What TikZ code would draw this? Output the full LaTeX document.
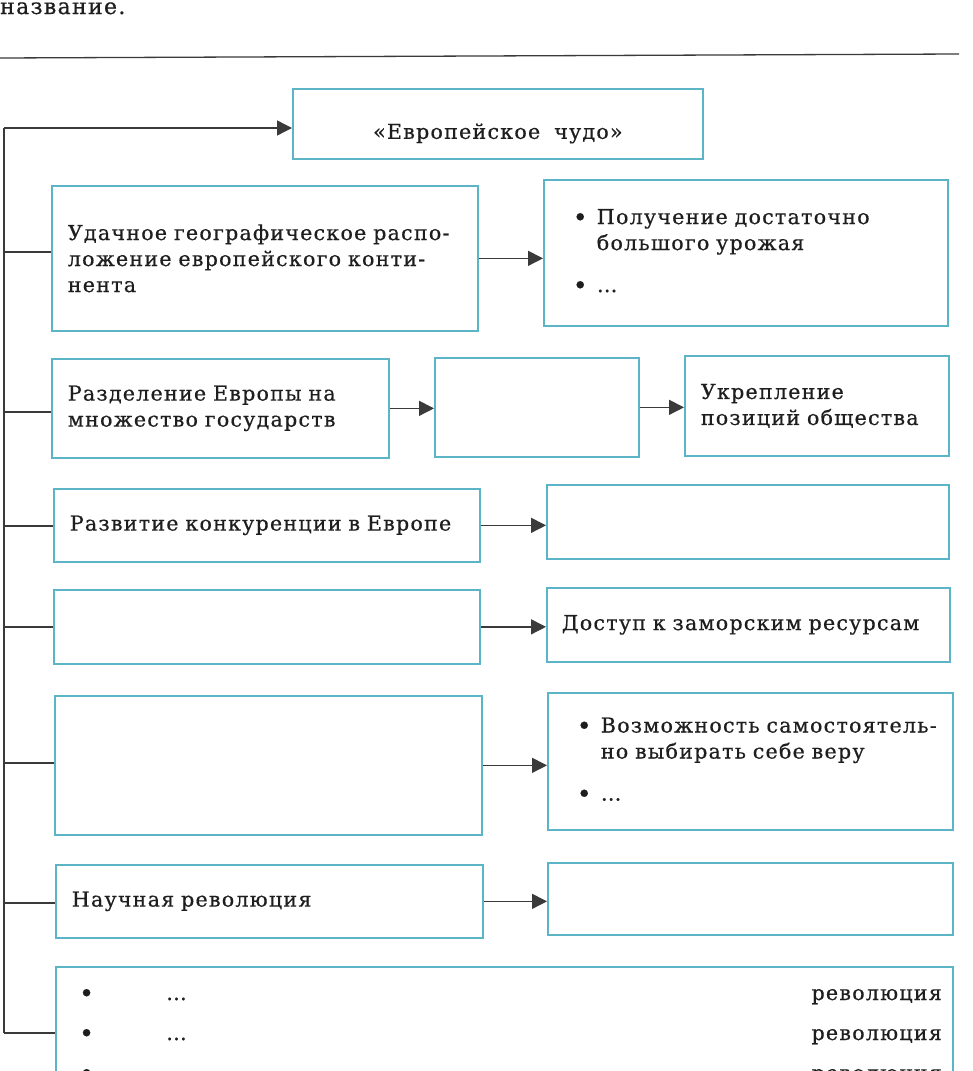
\documentclass[tikz,border=0pt]{standalone}
\usepackage{fontspec}
\setmainfont{DejaVu Serif}[LetterSpace=6, WordSpace=1.8, FakeBold=0.6]
\usetikzlibrary{arrows.meta}
\definecolor{boxc}{HTML}{5BB5C6}
\definecolor{linec}{HTML}{3A3A3A}
\definecolor{txtc}{HTML}{1E1E1E}
\newcommand{\bodyfnt}{\fontsize{20.6}{26}\selectfont}
\newcommand{\bul}{\raisebox{-2pt}{\fontsize{25}{26}\selectfont\textbullet}}
\begin{document}
\begin{tikzpicture}[x=1pt,y=-1pt,
  box/.style={draw=boxc, line width=1.7pt, rectangle, inner sep=0pt,
    anchor=north west, text=txtc, font=\bodyfnt, align=left},
  plain/.style={inner sep=0pt, text=txtc, font=\bodyfnt},
  conn/.style={draw=linec, line width=1.4pt},
  arr/.style={conn, -{Triangle[length=15pt,width=15pt]}},
]
\useasboundingbox (0,0) rectangle (972,1071);
\clip (0,0) rectangle (972,1071);
\fill[white] (0,0) rectangle (972,1071);

% heading fragment and rule
\node[plain, anchor=base west, font=\fontsize{22}{26}\selectfont] (head) at (0,14) {название.};
\coordinate (ruleL) at (0,58);
\coordinate (ruleR) at (959,54);
\draw[conn, line width=1.3pt] (ruleL) -- (ruleR);

% boxes
\node[box, minimum width=410, minimum height=70, align=center] (top) at (292,88)
  {\raisebox{-15pt}[0pt][0pt]{«Европейское чудо»}};

\node[box, minimum width=426, minimum height=145, text width=394] (b2l) at (51,185)
  {Удачное географическое распо-\\ложение европейского конти-\\нента};
\node[box, minimum width=404, minimum height=146, text width=346] (b2r) at (543,179)
  {\begin{tabular}{@{}p{24pt}@{}l@{}}
   \bul & Получение достаточно\\
        & большого урожая\\[16pt]
   \bul & \dots
   \end{tabular}};

\node[box, minimum width=337, minimum height=99, text width=305] (b3a) at (51,358)
  {Разделение Европы на\\множество государств};
\node[box, minimum width=204, minimum height=99] (b3b) at (434,357) {};
\node[box, minimum width=264, minimum height=100, text width=232] (b3c) at (684,355)
  {Укрепление\\позиций общества};

\node[box, minimum width=426, minimum height=73, text width=394] (b4l) at (53,488)
  {Развитие конкуренции в Европе};
\node[box, minimum width=402, minimum height=74] (b4r) at (546,484) {};

\node[box, minimum width=426, minimum height=74] (b5l) at (53,589) {};
\node[box, minimum width=403, minimum height=74, text width=373] (b5r) at (546,587)
  {Доступ к заморским ресурсам};

\node[box, minimum width=427, minimum height=139] (b6l) at (54,695) {};
\node[box, minimum width=405, minimum height=137, text width=347] (b6r) at (547,692)
  {\begin{tabular}{@{}p{24pt}@{}l@{}}
   \bul & Возможность самостоятель-\\
        & но выбирать себе веру\\[16pt]
   \bul & \dots
   \end{tabular}};

\node[box, minimum width=427, minimum height=73, text width=395] (b7l) at (55,864)
  {Научная революция};
\node[box, minimum width=405, minimum height=72] (b7r) at (547,862) {};

\node[box, minimum width=897, minimum height=160] (b8) at (55,966) {};
\node[plain, anchor=base west] (b8p1) at (79,1000) {\bul};
\node[plain, anchor=base west] (b8d1) at (166,1000) {\dots};
\node[plain, anchor=base east] (b8r1) at (942,1000) {революция};
\node[plain, anchor=base west] (b8p2) at (79,1040) {\bul};
\node[plain, anchor=base west] (b8d2) at (166,1040) {\dots};
\node[plain, anchor=base east] (b8r2) at (942,1040) {революция};
\node[plain, anchor=base west] (b8p3) at (79,1080) {\bul};
\node[plain, anchor=base east] (b8r3) at (942,1080) {революция};

% trunk
\coordinate (t1) at (4,128);
\coordinate (t2) at (4,252);
\coordinate (t3) at (4,412);
\coordinate (t4) at (4,526);
\coordinate (t5) at (4,627);
\coordinate (t6) at (4,763);
\coordinate (t7) at (4,903);
\coordinate (t8) at (4,1033);
\draw[conn] (t1) -- (t8);
\draw[arr] (t1) -- (t1 -| top.west);
\draw[conn] (t2) -- (t2 -| b2l.west);
\draw[conn] (t3) -- (t3 -| b3a.west);
\draw[conn] (t4) -- (t4 -| b4l.west);
\draw[conn] (t5) -- (t5 -| b5l.west);
\draw[conn] (t6) -- (t6 -| b6l.west);
\draw[conn] (t7) -- (t7 -| b7l.west);
\draw[conn] (t8) -- (t8 -| b8.west);

% arrows between boxes
\draw[arr] (b2l.east) -- (b2r.west |- b2l.east);
\draw[arr] (b3a.east) -- (b3b.west |- b3a.east);
\draw[arr] (b3b.east) -- (b3c.west |- b3b.east);
\draw[arr] (b4l.east) -- (b4r.west |- b4l.east);
\draw[arr] (b5l.east) -- (b5r.west |- b5l.east);
\draw[arr] (b6l.east) -- (b6r.west |- b6l.east);
\draw[arr] (b7l.east) -- (b7r.west |- b7l.east);
\end{tikzpicture}
\end{document}
